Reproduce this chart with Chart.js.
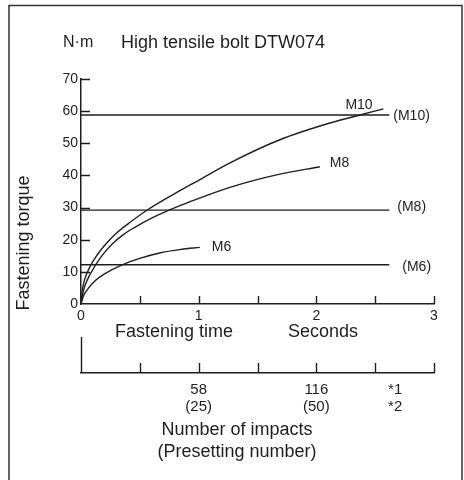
<!DOCTYPE html>
<html>
<head>
<meta charset="utf-8">
<script src="https://cdn.jsdelivr.net/npm/chart.js@4"></script>
<style>
  html, body { margin: 0; padding: 0; background: #fff; }
  #wrap { width: 464px; height: 480px; position: relative; }
</style>
</head>
<body>
<div id="wrap"><canvas id="torqueChart" width="464" height="480"></canvas></div>
<script>
// torque axis (N·m) and time axis (seconds)
const torqueTicks = [0, 10, 20, 30, 40, 50, 60, 70];
const timeLabels = [0, 1, 2, 3];
const timeMarks = [0.5, 1, 1.5, 2, 2.5, 3];

// number of impacts axis
const impactPositions = [1, 2, 2.67];
const impactLabels = [['58', '(25)'], ['116', '(50)'], ['*1', '*2']];

// fastening curves
const curveNames = ['M10', 'M8', 'M6'];
const m10Time = [0, 0.01, 0.03, 0.085, 0.14, 0.2, 0.3, 0.42, 0.57, 0.8, 1.011, 1.266, 1.69, 2.115, 2.37, 2.57];
const m10Torque = [0, 4, 7.5, 12.2, 15.4, 18.2, 22, 25.5, 29.4, 34.4, 38.7, 43.9, 51.1, 56.3, 58.8, 60.7];
const m8Time = [0, 0.02, 0.05, 0.125, 0.19, 0.266, 0.36, 0.45, 0.6, 0.748, 0.918, 1.266, 1.69, 2.03];
const m8Torque = [0, 4, 7.2, 12.2, 15.6, 18.7, 21.6, 23.7, 26.7, 29.2, 31.7, 36.3, 40.4, 42.7];
const m6Time = [0, 0.02, 0.06, 0.125, 0.2, 0.35, 0.5, 0.66, 0.85, 1.01];
const m6Torque = [0, 2.4, 4.8, 7.4, 9.4, 12.2, 14.2, 15.8, 17, 17.6];

// recommended torque lines
const limitNames = ['(M10)', '(M8)', '(M6)'];
const limitTorque = [58.8, 29.2, 12.2];
const limitStart = 0;
const limitEnd = 2.62;

const INK = '#1e1e1e';
const FONT = '"Liberation Sans", Arial, sans-serif';

const toPoints = (xs, ys) => xs.map((x, i) => ({ x: x, y: ys[i] }));

const curveSets = [[m10Time, m10Torque], [m8Time, m8Torque], [m6Time, m6Torque]].map((c, i) => ({
  label: curveNames[i],
  data: toPoints(c[0], c[1]),
  borderColor: INK,
  borderWidth: 1.4,
  pointRadius: 0,
  cubicInterpolationMode: 'monotone',
  fill: false
}));

const limitSets = limitTorque.map((t, i) => ({
  label: limitNames[i],
  data: [{ x: limitStart, y: t }, { x: limitEnd, y: t }],
  borderColor: INK,
  borderWidth: 1.4,
  pointRadius: 0,
  fill: false
}));

// inward ticks, extra texts, frame
const decorations = {
  id: 'decorations',
  afterDraw(chart) {
    const { ctx } = chart;
    const x = chart.scales.x, y = chart.scales.y, x2 = chart.scales.x2;
    const y0 = y.getPixelForValue(0);
    ctx.save();
    ctx.strokeStyle = INK;
    ctx.lineWidth = 1.4;
    ctx.beginPath();
    torqueTicks.slice(1).forEach((v) => {
      const py = Math.round(y.getPixelForValue(v)) + 0.5;
      ctx.moveTo(x.left, py); ctx.lineTo(x.left + 9, py);
    });
    timeMarks.forEach((v) => {
      const px = Math.round(x.getPixelForValue(v)) + 0.5;
      ctx.moveTo(px, y0); ctx.lineTo(px, y0 - 8);
      ctx.moveTo(px, x2.top); ctx.lineTo(px, x2.top - 10);
    });
    ctx.moveTo(x2.left + 0.5, x2.top); ctx.lineTo(x2.left + 0.5, x2.top - 36);
    ctx.stroke();

    ctx.fillStyle = INK;
    ctx.textBaseline = 'middle';

    // curve names at the curve ends
    ctx.font = '14px ' + FONT;
    ctx.textAlign = 'left';
    const ends = [[m10Time, m10Torque, -38, -4], [m8Time, m8Torque, 10, -4], [m6Time, m6Torque, 12, 0]];
    ends.forEach((e, i) => {
      const n = e[0].length - 1;
      ctx.fillText(curveNames[i], x.getPixelForValue(e[0][n]) + e[2], y.getPixelForValue(e[1][n]) + e[3]);
    });
    const limitOffsets = [[4, 1], [8, -3], [13, 2]];
    limitTorque.forEach((t, i) => {
      ctx.fillText(limitNames[i], x.getPixelForValue(limitEnd) + limitOffsets[i][0], y.getPixelForValue(t) + limitOffsets[i][1]);
    });

    // titles
    ctx.font = '16px ' + FONT;
    ctx.fillText('N·m', 63, 43);
    ctx.font = '18px ' + FONT;
    ctx.fillText('High tensile bolt DTW074', 121, 43);
    ctx.textAlign = 'center';
    ctx.fillText('Fastening time', 174, 332);
    ctx.fillText('Seconds', 323, 332);
    ctx.fillText('Number of impacts', 237, 430);
    ctx.fillText('(Presetting number)', 237, 452);
    ctx.save();
    ctx.translate(24, 243);
    ctx.rotate(-Math.PI / 2);
    ctx.fillText('Fastening torque', 0, 0);
    ctx.restore();

    // frame
    ctx.strokeStyle = '#333';
    ctx.lineWidth = 1.5;
    ctx.strokeRect(9, 5.5, 453, 480);
    ctx.restore();
  }
};

new Chart(document.getElementById('torqueChart'), {
  type: 'line',
  data: { datasets: curveSets.concat(limitSets) },
  options: {
    responsive: false,
    animation: false,
    events: [],
    layout: { padding: { top: 79, right: 30, left: 0, bottom: 0 } },
    plugins: { legend: { display: false }, tooltip: { enabled: false }, title: { display: false } },
    scales: {
      x: {
        type: 'linear', position: 'bottom', weight: 0, min: 0, max: 3,
        afterBuildTicks: (s) => { s.ticks = timeLabels.map((v) => ({ value: v })); },
        afterFit: (s) => { s.height = 69; },
        grid: { display: false, drawTicks: false },
        border: { display: true, color: INK, width: 1.5 },
        ticks: { color: INK, font: { family: FONT, size: 14 }, padding: 4, maxRotation: 0, autoSkip: false }
      },
      x2: {
        type: 'linear', axis: 'x', position: 'bottom', weight: 1, min: 0, max: 3,
        afterBuildTicks: (s) => { s.ticks = impactPositions.map((v) => ({ value: v })); },
        afterFit: (s) => { s.height = 107; },
        grid: { display: false, drawTicks: false },
        border: { display: true, color: INK, width: 1.5 },
        ticks: {
          color: INK, font: { family: FONT, size: 15, lineHeight: 1.15 }, padding: 8,
          maxRotation: 0, autoSkip: false,
          callback: (v, i) => impactLabels[i]
        }
      },
      y: {
        type: 'linear', position: 'left', min: 0, max: 70,
        afterBuildTicks: (s) => { s.ticks = torqueTicks.map((v) => ({ value: v })); },
        afterFit: (s) => { s.width = 81; },
        grid: { display: false, drawTicks: false },
        border: { display: true, color: INK, width: 1.5 },
        ticks: { color: INK, font: { family: FONT, size: 14 }, padding: 3, autoSkip: false }
      }
    }
  },
  plugins: [decorations]
});
</script>
</body>
</html>
